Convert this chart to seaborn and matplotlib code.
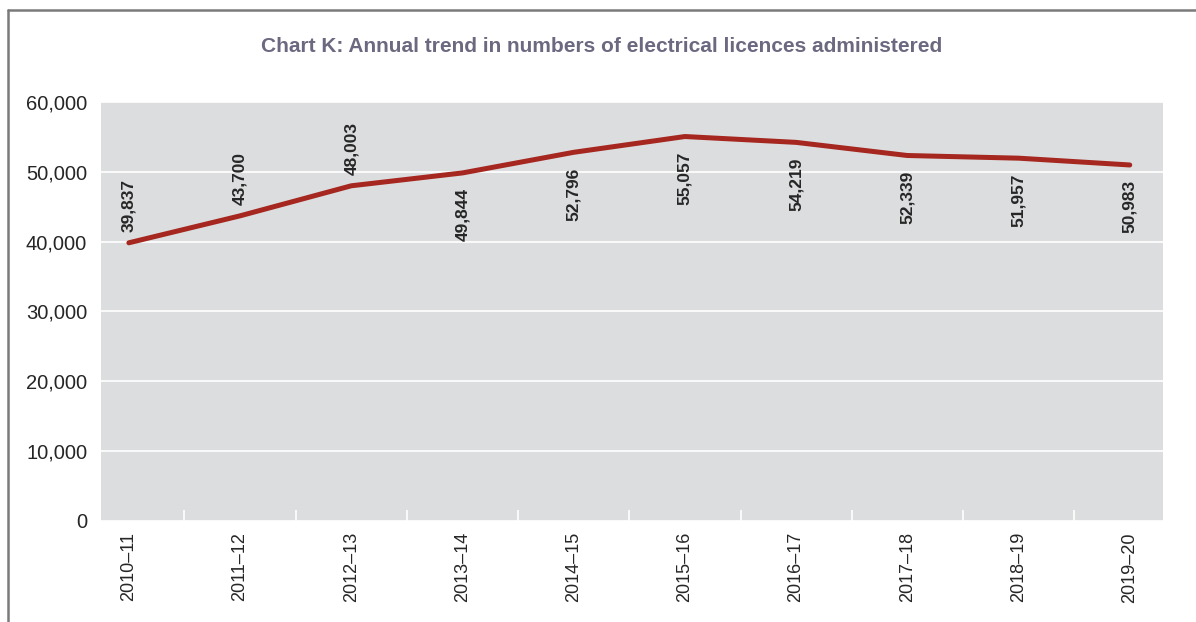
import matplotlib
matplotlib.use('Agg')
import matplotlib.pyplot as plt
import seaborn as sns
import numpy as np
import pandas as pd
from matplotlib.ticker import FuncFormatter, FixedLocator
from matplotlib.lines import Line2D

# Chart K data
years = ['2010–11', '2011–12', '2012–13', '2013–14', '2014–15',
         '2015–16', '2016–17', '2017–18', '2018–19', '2019–20']
licences = [39837, 43700, 48003, 49844, 52796, 55057, 54219, 52339, 51957, 50983]
label_above = [True, True, True, False, False, False, False, False, False, False]

df = pd.DataFrame({'year': years, 'licences': licences})

sns.set_style('darkgrid', {'axes.facecolor': '#dcdddf', 'grid.color': 'white'})
plt.rcParams['font.family'] = ['Liberation Sans Narrow', 'Liberation Sans', 'DejaVu Sans']

fig = plt.figure(figsize=(11.96, 6.22), dpi=100)
ax = fig.add_axes([0.0845, 0.1624, 0.888, 0.6736])

sns.lineplot(data=df, x='year', y='licences', ax=ax, color='#a5271f', linewidth=3.6, sort=False)

ax.set_ylim(0, 60000)
ax.set_xlim(-0.25, 9.3)
ax.set_yticks(np.arange(0, 60001, 10000))
ax.yaxis.set_major_formatter(FuncFormatter(lambda v, p: f'{int(v):,}'))
ax.grid(True, axis='y', color='white', linewidth=1.2)
ax.grid(False, axis='x')
for s in ax.spines.values():
    s.set_visible(False)

ax.set_xticks(range(len(years)))
ax.set_xticklabels(years, rotation=90)
ax.xaxis.set_minor_locator(FixedLocator(np.arange(0.5, len(years) - 1, 1)))
ax.tick_params(axis='x', which='major', length=0, labelsize=13, pad=8)
ax.tick_params(axis='x', which='minor', direction='in', length=8, color='white', width=1.2, bottom=True)
ax.tick_params(axis='y', length=0, labelsize=14.5, pad=10)
ax.set_xlabel('')
ax.set_ylabel('')

for i, (v, up) in enumerate(zip(licences, label_above)):
    if up:
        ax.annotate(f'{v:,}', (i, v), xytext=(0, 8), textcoords='offset points',
                    rotation=90, ha='center', va='bottom', fontsize=12.5, fontweight='bold')
    else:
        ax.annotate(f'{v:,}', (i, v), xytext=(0, -11), textcoords='offset points',
                    rotation=90, ha='center', va='top', fontsize=12.5, fontweight='bold')

fig.text(0.503, 0.925, 'Chart K: Annual trend in numbers of electrical licences administered',
         ha='center', va='center', fontsize=15, fontweight='bold', color='#6c6880')

# outer frame: only the left and top edges are visible
fx = 8 / 1196
fy = 1 - 10 / 622
fig.add_artist(Line2D([fx, fx], [0, fy], transform=fig.transFigure, color='#7a7a7a', linewidth=1.8))
fig.add_artist(Line2D([fx, 1], [fy, fy], transform=fig.transFigure, color='#7a7a7a', linewidth=1.8))

fig.savefig('out.png', dpi=100)
